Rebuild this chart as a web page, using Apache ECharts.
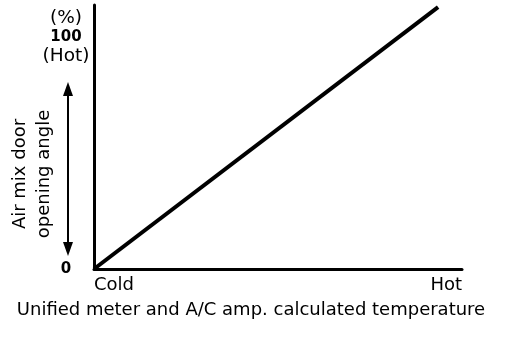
<!DOCTYPE html>
<html><head><meta charset="utf-8">
<script src="https://cdn.jsdelivr.net/npm/echarts@6/dist/echarts.min.js"></script>
<style>html,body{margin:0;padding:0;background:#fff}#c{width:512px;height:364px}</style>
</head><body><div id="c"></div>
<script>
// Data
const xTickLabels = {0: 'Cold', 100: 'Hot'};
const yTickLabels = {0: '0', 100: '100'};
const lineX = [0, 93.5];
const lineY = [0, 112.9];
const xTitle = 'Unified meter and A/C amp. calculated temperature';
const yTitle = 'Air mix door\nopening angle';

const font = '"DejaVu Sans", sans-serif';
const chart = echarts.init(document.getElementById('c'));
chart.setOption({
  animation: false,
  backgroundColor: '#fff',
  grid: {left: 94, right: 50, top: 5, bottom: 95, containLabel: false, outerBoundsMode: 'none'},
  xAxis: {
    type: 'value', min: 0, max: 100, interval: 100,
    axisLine: {lineStyle: {color: '#000', width: 3}},
    axisTick: {show: false}, splitLine: {show: false},
    axisLabel: {
      color: '#000', fontFamily: font, fontSize: 18, margin: 7,
      alignMinLabel: 'left', alignMaxLabel: 'right',
      formatter: v => xTickLabels[v] || ''
    },
    name: xTitle, nameLocation: 'middle', nameGap: 32, nameMoveOverlap: false,
    nameTextStyle: {color: '#000', fontFamily: font, fontSize: 18, padding: [0, 54, 0, 0]}
  },
  yAxis: {
    type: 'value', min: 0, max: 113.8, interval: 100,
    axisLine: {show: true, lineStyle: {color: '#000', width: 3}},
    axisTick: {show: false}, splitLine: {show: false},
    axisLabel: {
      color: '#000', fontFamily: font, margin: 28, align: 'center',
      showMaxLabel: false,
      formatter: v => {
        if (v === 100) return '{u|(%)}\n{b|' + yTickLabels[100] + '}\n{u|(Hot)}';
        if (v === 0) return '{b|' + yTickLabels[0] + '}';
        return '';
      },
      rich: {
        u: {fontFamily: font, fontSize: 18.5, lineHeight: 19, color: '#000', align: 'center'},
        b: {fontFamily: font, fontSize: 15, fontWeight: 'bold', lineHeight: 19, color: '#000', align: 'center'}
      }
    },
    name: yTitle, nameLocation: 'middle', nameRotate: 90, nameGap: 38, nameMoveOverlap: false,
    nameTextStyle: {color: '#000', fontFamily: font, fontSize: 18, lineHeight: 24, padding: [0, 74, 0, 0]}
  },
  series: [{
    type: 'line', symbol: 'none',
    data: lineX.map((x, i) => [x, lineY[i]]),
    lineStyle: {color: '#000', width: 4}
  }],
  graphic: [
    {type: 'line', shape: {x1: 68, y1: 92, x2: 68, y2: 246}, style: {stroke: '#000', lineWidth: 2}},
    {type: 'polygon', shape: {points: [[68, 82], [63, 96], [73, 96]]}, style: {fill: '#000'}},
    {type: 'polygon', shape: {points: [[68, 256], [63, 242], [73, 242]]}, style: {fill: '#000'}}
  ]
});
</script></body></html>
